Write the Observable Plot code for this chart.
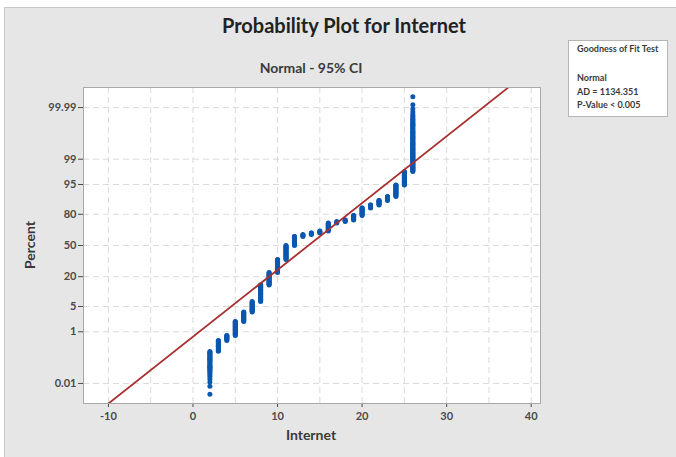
<!DOCTYPE html>
<html><head><meta charset="utf-8">
<script src="https://cdn.jsdelivr.net/npm/d3@7"></script>
<script src="https://cdn.jsdelivr.net/npm/@observablehq/plot@0.6"></script>
<style>
body{margin:0;background:#fff;width:676px;height:457px;overflow:hidden;font-family:Lato,"Open Sans",sans-serif;position:relative;}
#panel{position:absolute;left:4px;top:7px;width:672px;height:450px;background:#e6e6e6;border-left:1px solid #c9c9c9;border-top:1px solid #c9c9c9;}
#chart{position:absolute;left:0;top:0;}
#title{position:absolute;top:13px;left:6px;width:676px;text-align:center;font-size:20px;font-weight:700;color:#222;}
#subtitle{position:absolute;top:59px;left:211px;width:200px;text-align:center;font-size:14px;font-weight:700;color:#3a3a3a;}
#ylab{position:absolute;left:29px;top:245px;transform:translate(-50%,-50%) rotate(-90deg);font-size:14px;font-weight:700;color:#3a3a3a;white-space:nowrap;}
#xlab{position:absolute;left:211px;width:200px;top:426px;text-align:center;font-size:14px;font-weight:700;color:#3a3a3a;}
#gof{position:absolute;left:568px;top:40px;width:100px;height:77px;background:#fff;border:1px solid #b5b5b5;box-sizing:border-box;font-size:9px;font-weight:700;color:#3a3a3a;}
#gof div{position:absolute;left:8px;white-space:nowrap;}
</style></head>
<body>
<div id="panel"></div>
<div id="chart"></div>
<div id="title">Probability Plot for Internet</div>
<div id="subtitle">Normal - 95% CI</div>
<div id="ylab">Percent</div>
<div id="xlab">Internet</div>
<div id="gof">
  <div style="top:2px">Goodness of Fit Test</div>
  <div style="top:31px">Normal</div>
  <div style="top:45px">AD = 1134.351</div>
  <div style="top:58px">P-Value &lt; 0.005</div>
</div>
<script>
// ---- data ----
const internetValues = [2,3,4,5,6,7,8,9,10,11,12,13,14,15,16,17,18,19,20,21,22,23,24,25,26];
const internetCounts = [49,71,55,289,377,667,1792,2068,2751,3381,2208,472,357,460,1748,299,299,851,1219,426,575,442,964,653,529];
const percentTicks = [0.01,1,5,20,50,80,95,99,99.99];
const percentLabels = ["0.01","1","5","20","50","80","95","99","99.99"];
const xTickValues = [-10,0,10,20,30,40];
const xGridValues = [-10,-5,0,5,10,15,20,25,30,35,40];
const fitMean = 13.65;
const fitSd = 5.55;

// inverse standard normal CDF (Acklam)
function qnorm(p){
  const a=[-3.969683028665376e+01,2.209460984245205e+02,-2.759285104469687e+02,1.383577518672690e+02,-3.066479806614716e+01,2.506628277459239e+00];
  const b=[-5.447609879822406e+01,1.615858368580409e+02,-1.556989798598866e+02,6.680131188771972e+01,-1.328068155288572e+01];
  const c=[-7.784894002430293e-03,-3.223964580411365e-01,-2.400758277161838e+00,-2.549732539343734e+00,4.374664141464968e+00,2.938163982698783e+00];
  const d=[7.784695709041462e-03,3.224671290700398e-01,2.445134137142996e+00,3.754408661907416e+00];
  const pl=0.02425, ph=1-pl; let q,r;
  if(p<pl){q=Math.sqrt(-2*Math.log(p));return (((((c[0]*q+c[1])*q+c[2])*q+c[3])*q+c[4])*q+c[5])/((((d[0]*q+d[1])*q+d[2])*q+d[3])*q+1);}
  if(p>ph){q=Math.sqrt(-2*Math.log(1-p));return -(((((c[0]*q+c[1])*q+c[2])*q+c[3])*q+c[4])*q+c[5])/((((d[0]*q+d[1])*q+d[2])*q+d[3])*q+1);}
  q=p-0.5;r=q*q;return (((((a[0]*r+a[1])*r+a[2])*r+a[3])*r+a[4])*r+a[5])*q/(((((b[0]*r+b[1])*r+b[2])*r+b[3])*r+b[4])*r+1);
}

// median-rank plotting positions
const n = d3.sum(internetCounts);
const points = [];
let rank = 0;
internetValues.forEach((v,k)=>{
  let last = -Infinity;
  for(let j=0;j<internetCounts[k];j++){
    rank++;
    const z = qnorm((rank-0.3)/(n+0.4));
    if(z-last>=0.02 || j===internetCounts[k]-1){points.push({x:v,z}); last=z;}
  }
});

const zTicks = percentTicks.map(p=>qnorm(p/100));
const labelOf = new Map(zTicks.map((z,i)=>[z,percentLabels[i]]));
const fitLine = [{x:-20},{x:50}].map(d=>({x:d.x,z:(d.x-fitMean)/fitSd}));

const chart = Plot.plot({
  width:676, height:457,
  marginLeft:83, marginRight:136, marginTop:87, marginBottom:54,
  style:{background:"transparent", fontFamily:"Lato, 'Open Sans', sans-serif", fontSize:"11px", fontWeight:"700", color:"#4a4a4a"},
  x:{domain:[-12.95,41.1], ticks:xTickValues, tickFormat:d=>String(d), tickSize:4, label:null},
  y:{domain:[-4.26,4.26], ticks:zTicks, tickFormat:d=>labelOf.get(d), tickSize:5, tickPadding:2, label:null},
  marks:[
    Plot.frame({fill:"white", stroke:"none"}),
    Plot.ruleX(xGridValues,{stroke:"#dadada", strokeDasharray:"6,4"}),
    Plot.ruleY(zTicks,{stroke:"#dadada", strokeDasharray:"6,4"}),
    Plot.dot(points,{x:"x", y:"z", r:2.5, fill:"#0b57b0", stroke:null}),
    Plot.line(fitLine,{x:"x", y:"z", stroke:"#a83030", strokeWidth:1.8, clip:true}),
    Plot.frame({stroke:"#a8a8a8"})
  ]
});
document.getElementById("chart").appendChild(chart);
</script>
</body></html>
